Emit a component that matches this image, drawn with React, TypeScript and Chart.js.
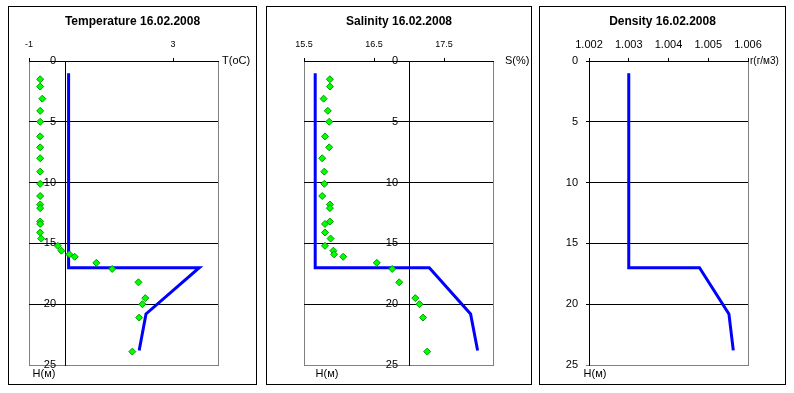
import React, { useEffect, useRef } from 'react';
import { Chart, registerables } from 'chart.js';
Chart.register(...registerables);

// ---- data ----
const obsDepth = [1.5, 2.1, 3.1, 4.1, 5.0, 6.2, 7.1, 8.0, 9.1, 10.1, 11.1, 11.8, 12.1, 13.2, 13.4, 14.1, 14.6, 15.2, 15.6, 15.9, 16.1, 16.6, 17.1, 18.2, 19.5, 20.0, 21.1, 23.9];
const obsTemp = [-0.69, -0.69, -0.63, -0.69, -0.69, -0.69, -0.69, -0.69, -0.69, -0.69, -0.69, -0.69, -0.69, -0.69, -0.69, -0.69, -0.66, -0.2, -0.1, 0.12, 0.27, 0.87, 1.31, 2.04, 2.23, 2.15, 2.06, 1.87];
const obsSal = [15.87, 15.87, 15.78, 15.84, 15.86, 15.8, 15.86, 15.76, 15.79, 15.79, 15.76, 15.87, 15.87, 15.87, 15.8, 15.8, 15.88, 15.8, 15.92, 15.93, 16.06, 16.54, 16.76, 16.86, 17.09, 17.15, 17.2, 17.26];
const profileDepth = [1, 17, 17, 20.8, 23.8];
const profileTemp = [0.1, 0.1, 3.73, 2.25, 2.06];
const profileSal = [15.66, 15.66, 17.29, 17.88, 17.98];
const profileDens = [1.003, 1.003, 1.00478, 1.00552, 1.00563];
const depthTicks = [0, 5, 10, 15, 20, 25];
const tempTicks = [-1, 3];
const salTicks = [15.5, 16.5, 17.5];
const densTicks = [1.002, 1.003, 1.004, 1.005, 1.006];

const FONT = '"Liberation Sans", Arial, sans-serif';
Chart.defaults.font.family = FONT;
Chart.defaults.color = '#000';

const decor = {
  id: 'decor',
  beforeDraw(chart: any, _args: any, opts: any) {
    const { ctx, chartArea: a } = chart;
    if (opts.yShift) {
      const items = chart.scales.y.getLabelItems(a);
      items.forEach((it: any) => {
        if (!it._shifted) {
          it._shifted = true;
          it.options.translation = [it.options.translation[0] - opts.yShift, it.options.translation[1]];
        }
      });
    }
    ctx.save();
    ctx.strokeStyle = '#808080';
    ctx.lineWidth = 1;
    ctx.strokeRect(Math.round(a.left) + 0.5, Math.round(a.top) + 0.5, Math.round(a.right - a.left), Math.round(a.bottom - a.top));
    ctx.restore();
  },
  afterDraw(chart: any, _args: any, opts: any) {
    const { ctx, chartArea: a, width } = chart;
    ctx.save();
    ctx.fillStyle = '#000';
    ctx.font = 'bold 12px ' + FONT;
    ctx.textAlign = 'center';
    ctx.textBaseline = 'alphabetic';
    ctx.fillText(opts.title, width / 2, 18);
    ctx.font = opts.unitSize + 'px ' + FONT;
    ctx.textAlign = 'left';
    ctx.textBaseline = 'middle';
    ctx.fillText(opts.xUnit, a.right + opts.xUnitDx, a.top);
    ctx.font = '11px ' + FONT;
    ctx.textAlign = 'center';
    ctx.fillText('H(м)', a.left + opts.hDx, a.bottom + 9);
    ctx.restore();
  },
};

function makeConfig(p: any) {
  return {
    type: 'scatter',
    data: {
      datasets: [
        {
          data: p.obs ? obsDepth.map((d, i) => ({ x: p.obs[i], y: d })) : [],
          pointStyle: 'rectRot',
          pointRadius: 3.5,
          backgroundColor: '#00FF00',
          borderColor: '#009900',
          borderWidth: 1,
          order: 0,
        },
        {
          data: profileDepth.map((d, i) => ({ x: p.profile[i], y: d })),
          showLine: true,
          pointRadius: 0,
          borderColor: '#0000FF',
          backgroundColor: '#0000FF',
          borderWidth: 3,
          order: 1,
        },
      ],
    },
    options: {
      animation: false,
      responsive: false,
      events: [],
      layout: { padding: p.padding },
      plugins: {
        legend: { display: false },
        tooltip: { enabled: false },
        decor: { title: p.title, xUnit: p.xUnit, xUnitDx: p.xUnitDx, hDx: p.hDx, unitSize: p.unitSize, yShift: p.yShift },
      },
      scales: {
        x: {
          type: 'linear',
          position: 'top',
          min: p.xMin,
          max: p.xMax,
          afterBuildTicks: (s: any) => { s.ticks = p.xTicks.map((v: number) => ({ value: v })); },
          afterFit: (s: any) => { s.height = 54; },
          grid: { display: true, drawOnChartArea: false, drawTicks: true, tickLength: 3, color: '#000' },
          border: { display: true, color: '#000', width: 1 },
          ticks: { font: { size: p.xFont }, color: '#000', padding: p.xPad, maxRotation: 0, autoSkip: false, callback: (v: number) => String(v) },
        },
        y: {
          type: 'linear',
          reverse: true,
          min: 0,
          max: 25,
          position: p.yPos,
          afterBuildTicks: (s: any) => { s.ticks = depthTicks.map((v) => ({ value: v })); },
          afterFit: (s: any) => { s.width = p.yWidth; },
          grid: {
            color: (c: any) => (c.tick && c.tick.value === 25 ? '#808080' : '#000'),
            tickLength: 3,
          },
          border: { display: true, color: '#000', width: 1 },
          ticks: { font: { size: 11 }, color: '#000', padding: 8, autoSkip: false, callback: (v: number) => String(v) },
        },
      },
    },
    plugins: [decor],
  };
}

function Panel({ left, width, p }: any) {
  const ref = useRef<HTMLCanvasElement | null>(null);
  useEffect(() => {
    const c = new Chart(ref.current as any, makeConfig(p) as any);
    return () => c.destroy();
  }, []);
  return (
    <div style={{ position: 'absolute', left, top: 6, width, height: 379, border: '1px solid #000', boxSizing: 'border-box' }}>
      <canvas ref={ref} width={width - 2} height={377} style={{ display: 'block', width: width - 2, height: 377 }} />
    </div>
  );
}

const tempP = {
  title: 'Temperature 16.02.2008', xUnit: 'T(oC)', xUnitDx: 4, hDx: 15, unitSize: 11,
  obs: obsTemp, profile: profileTemp, xMin: -1, xMax: 4.25, xTicks: tempTicks, xFont: 9, xPad: 8,
  yPos: { x: 0 }, yWidth: 0, yShift: 9, padding: { left: 20, right: 38, top: 0, bottom: 19 },
};
const salP = {
  title: 'Salinity 16.02.2008', xUnit: 'S(%)', xUnitDx: 12, hDx: 23, unitSize: 11,
  obs: obsSal, profile: profileSal, xMin: 15.5, xMax: 18.2, xTicks: salTicks, xFont: 9, xPad: 8,
  yPos: { x: 17 }, yWidth: 0, yShift: 11, padding: { left: 37, right: 38, top: 0, bottom: 19 },
};
const densP = {
  title: 'Density 16.02.2008', xUnit: 'r(г/м3)', xUnitDx: 2, hDx: 6, unitSize: 10,
  obs: null, profile: profileDens, xMin: 1.002, xMax: 1.006, xTicks: densTicks, xFont: 11, xPad: 6,
  yPos: 'left', yWidth: 49, yShift: 0, padding: { left: 0, right: 37, top: 0, bottom: 19 },
};

export default function App() {
  return (
    <div style={{ position: 'absolute', left: 0, top: 0, width: 794, height: 393, background: '#fff' }}>
      <Panel left={8} width={249} p={tempP} />
      <Panel left={266} width={266} p={salP} />
      <Panel left={539} width={247} p={densP} />
    </div>
  );
}
